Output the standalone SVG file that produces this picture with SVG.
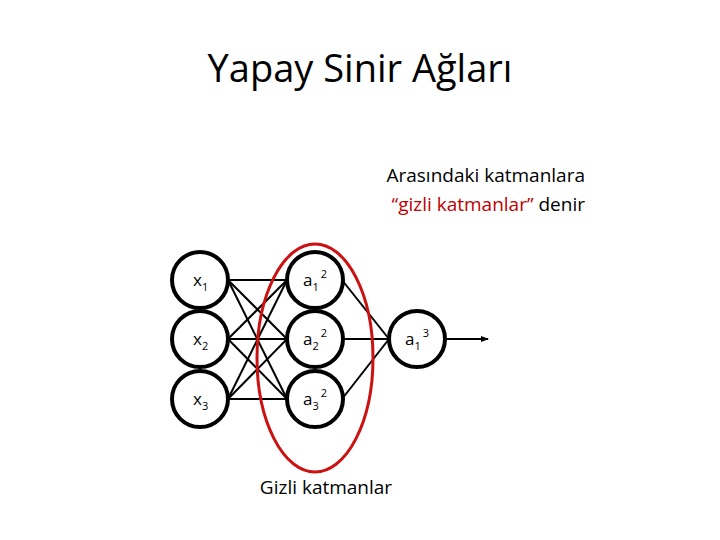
<svg xmlns="http://www.w3.org/2000/svg" width="720" height="540" viewBox="0 0 720 540">
<style>
.n{fill:#fff;stroke:#000;stroke-width:4}
.e line{stroke:#000;stroke-width:2}
.t{font-family:"Open Sans","Liberation Sans",sans-serif;fill:#000}
.l{font-size:17px}
.s{font-size:11px}
</style>
<defs><marker id="ah" markerWidth="8" markerHeight="8" refX="7" refY="4" orient="auto" markerUnits="userSpaceOnUse"><path d="M0,1 L8,4 L0,7z" fill="#000"/></marker></defs>
<rect width="720" height="540" fill="#fff"/>
<text class="t" x="360" y="82" font-size="38" text-anchor="middle">Yapay Sinir Ağları</text>
<text class="t" x="585" y="182" font-size="19" text-anchor="end">Arasındaki katmanlara</text>
<text class="t" x="585" y="211" font-size="19" text-anchor="end"><tspan fill="#c00000">“gizli katmanlar”</tspan> denir</text>
<g class="e" id="connectors">
<line x1="228" y1="280" x2="287" y2="280"/><line x1="228" y1="280" x2="287" y2="339"/><line x1="228" y1="280" x2="287" y2="399"/>
<line x1="228" y1="339" x2="287" y2="280"/><line x1="228" y1="339" x2="287" y2="339"/><line x1="228" y1="339" x2="287" y2="399"/>
<line x1="228" y1="399" x2="287" y2="280"/><line x1="228" y1="399" x2="287" y2="339"/><line x1="228" y1="399" x2="287" y2="399"/>
<line x1="342" y1="280" x2="389" y2="339"/><line x1="342" y1="339" x2="389" y2="339"/><line x1="342" y1="399" x2="389" y2="339"/>
<line x1="445" y1="339" x2="488" y2="339" marker-end="url(#ah)"/>
</g>
<g id="x1"><circle class="n" cx="200" cy="280" r="28"/><text class="t l" x="193" y="286">x<tspan class="s" dy="5">1</tspan></text></g>
<g id="x2"><circle class="n" cx="200" cy="339" r="28"/><text class="t l" x="193" y="345">x<tspan class="s" dy="5">2</tspan></text></g>
<g id="x3"><circle class="n" cx="200" cy="399" r="28"/><text class="t l" x="193" y="405">x<tspan class="s" dy="5">3</tspan></text></g>
<g id="a12"><circle class="n" cx="315" cy="280" r="28"/><text class="t l" x="303" y="286">a<tspan class="s" dy="5">1</tspan><tspan class="s" dy="-13" dx="2">2</tspan></text></g>
<g id="a22"><circle class="n" cx="315" cy="339" r="28"/><text class="t l" x="303" y="345">a<tspan class="s" dy="5">2</tspan><tspan class="s" dy="-13" dx="2">2</tspan></text></g>
<g id="a32"><circle class="n" cx="315" cy="399" r="28"/><text class="t l" x="303" y="405">a<tspan class="s" dy="5">3</tspan><tspan class="s" dy="-13" dx="2">2</tspan></text></g>
<g id="a13"><circle class="n" cx="417" cy="339" r="28"/><text class="t l" x="405" y="345">a<tspan class="s" dy="5">1</tspan><tspan class="s" dy="-13" dx="2">3</tspan></text></g>
<g id="hidden-ellipse"><ellipse cx="315" cy="358" rx="58" ry="114" fill="none" stroke="#cc1111" stroke-width="3"/></g>
<text class="t" x="326" y="494" font-size="19" text-anchor="middle">Gizli katmanlar</text>
</svg>
